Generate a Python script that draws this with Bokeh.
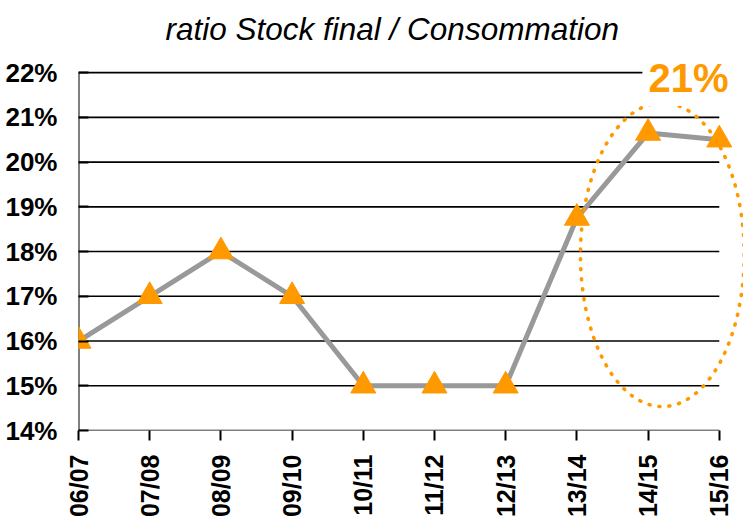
import numpy as np
from bokeh.plotting import figure
from bokeh.models import FixedTicker, PrintfTickFormatter, Label
from bokeh.embed import file_html
from bokeh.resources import INLINE

# ---- data ----
seasons = ["06/07", "07/08", "08/09", "09/10", "10/11", "11/12", "12/13", "13/14", "14/15", "15/16"]
ratio = [16.0, 17.0, 18.0, 17.0, 15.0, 15.0, 15.0, 18.75, 20.65, 20.5]
y_ticks = [14, 15, 16, 17, 18, 19, 20, 21, 22]

ORANGE = "#FF9900"
GREY = "#999999"

xs = list(range(len(seasons)))
last = xs[-1]

p = figure(width=743, height=524, output_backend="svg", toolbar_location=None,
           x_range=(0, 9.34), y_range=(y_ticks[0], y_ticks[-1] + 0.45),
           min_border_left=78, min_border_right=0, min_border_top=52, min_border_bottom=94,
           title="ratio Stock final / Consommation")
p.outline_line_color = None
p.background_fill_color = "white"
p.border_fill_color = "white"
p.xgrid.visible = False
p.ygrid.visible = False

p.title.text_font = "Liberation Sans"
p.title.text_font_style = "italic"
p.title.text_font_size = "31.5px"
p.title.text_color = "black"
p.title.align = "left"
p.title.offset = 87
p.title.standoff = 12

# horizontal grid lines (only across the category span)
p.segment(x0=[xs[0]] * len(y_ticks), x1=[last] * len(y_ticks), y0=y_ticks, y1=y_ticks,
          line_color="black", line_width=1.6)
# left axis line (only across the tick span)
p.segment(x0=[xs[0]], x1=[xs[0]], y0=[y_ticks[0]], y1=[y_ticks[-1]],
          line_color="black", line_width=2)

# y axis
p.yaxis.ticker = FixedTicker(ticks=y_ticks)
p.yaxis.formatter = PrintfTickFormatter(format="%d%%")
p.yaxis.major_label_text_font = "Liberation Sans"
p.yaxis.major_label_text_font_style = "bold"
p.yaxis.major_label_text_font_size = "26px"
p.yaxis.major_label_text_color = "black"
p.yaxis.major_tick_in = 10
p.yaxis.major_tick_out = 0
p.yaxis.minor_tick_line_color = None
p.yaxis.major_tick_line_color = "black"
p.yaxis.major_tick_line_width = 2
p.yaxis.axis_line_color = None
p.yaxis.major_label_standoff = 21

# x axis
p.xaxis.ticker = FixedTicker(ticks=xs)
p.xaxis.major_label_overrides = {i: s for i, s in zip(xs, seasons)}
p.xaxis.major_label_orientation = np.pi / 2
p.xaxis.major_label_text_font = "Liberation Sans"
p.xaxis.major_label_text_font_style = "bold"
p.xaxis.major_label_text_font_size = "25px"
p.xaxis.major_label_text_color = "black"
p.xaxis.axis_line_color = None
p.xaxis.major_tick_in = 0
p.xaxis.major_tick_out = 10
p.xaxis.major_tick_line_color = "black"
p.xaxis.major_tick_line_width = 2
p.xaxis.minor_tick_line_color = None
p.xaxis.major_label_standoff = 14

# series
p.line(xs, ratio, line_color=GREY, line_width=5)
p.scatter(xs, ratio, marker="triangle", size=25, fill_color=ORANGE, line_color=ORANGE)

# highlight ellipse around the last seasons
p.ellipse(x=[last - 0.8], y=[17.93], width=[2.3], height=[6.79],
          fill_color=None, line_color=ORANGE, line_width=3.6, line_dash="1 9", line_cap="round")

# highlight label
lab = Label(x=last - 1.08, y=21.88, text=f"{round(max(ratio)):.0f}%",
            text_font="Liberation Sans", text_font_style="bold", text_font_size="40px",
            text_color=ORANGE, text_baseline="alphabetic",
            background_fill_color="white", padding=6)
p.add_layout(lab)

open("out.html", "w").write(file_html(p, INLINE))
